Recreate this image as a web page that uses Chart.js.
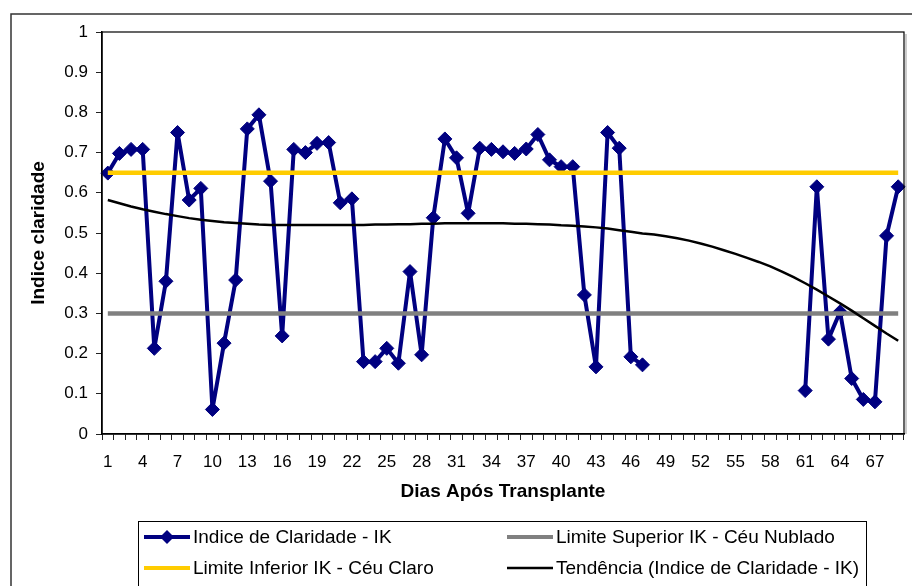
<!DOCTYPE html>
<html>
<head>
<meta charset="utf-8">
<script src="https://cdn.jsdelivr.net/npm/chart.js@4/dist/chart.umd.min.js"></script>
<style>
  html, body { margin: 0; padding: 0; background: #fff; }
  #chart { display: block; }
</style>
</head>
<body>
<canvas id="chart" width="912" height="586"></canvas>
<script>
// dias 1..69 (eixo de categorias)
const dias = ['1','2','3','4','5','6','7','8','9','10','11','12','13','14','15','16','17','18','19','20',
  '21','22','23','24','25','26','27','28','29','30','31','32','33','34','35','36','37','38','39','40',
  '41','42','43','44','45','46','47','48','49','50','51','52','53','54','55','56','57','58','59','60',
  '61','62','63','64','65','66','67','68','69'];

// Indice de Claridade - IK (sem dados entre os dias 48 e 60)
const indiceIK = [0.649, 0.698, 0.708, 0.708, 0.213, 0.380, 0.750, 0.582, 0.611, 0.061,
  0.226, 0.383, 0.759, 0.794, 0.629, 0.244, 0.708, 0.700, 0.723, 0.725,
  0.575, 0.585, 0.180, 0.180, 0.213, 0.176, 0.404, 0.197, 0.538, 0.734,
  0.687, 0.549, 0.711, 0.708, 0.702, 0.698, 0.709, 0.745, 0.682, 0.665,
  0.665, 0.346, 0.167, 0.750, 0.711, 0.192, 0.172,
  null, null, null, null, null, null, null, null, null, null, null, null, null,
  0.108, 0.615, 0.236, 0.304, 0.138, 0.086, 0.080, 0.493, 0.615];

// tendência (polinomial)
const tendencia = [0.582, 0.574, 0.566, 0.559, 0.553, 0.547, 0.542, 0.537, 0.533, 0.530,
  0.527, 0.525, 0.523, 0.521, 0.520, 0.520, 0.520, 0.520, 0.520, 0.520,
  0.520, 0.520, 0.520, 0.521, 0.521, 0.522, 0.522, 0.523, 0.523, 0.524,
  0.524, 0.524, 0.524, 0.524, 0.524, 0.523, 0.523, 0.522, 0.521, 0.519,
  0.518, 0.516, 0.514, 0.511, 0.507, 0.503, 0.499, 0.496, 0.492, 0.487,
  0.481, 0.474, 0.466, 0.457, 0.448, 0.438, 0.428, 0.417, 0.404, 0.390,
  0.375, 0.359, 0.342, 0.325, 0.307, 0.288, 0.269, 0.250, 0.232];

const limiteSuperior = 0.30; // céu nublado
const limiteInferior = 0.65; // céu claro
const yTicks = [0, 0.1, 0.2, 0.3, 0.4, 0.5, 0.6, 0.7, 0.8, 0.9, 1];

const NAVY = '#000080', GRAY = '#808080', GOLD = '#FFCC00';
const FONT = 'Liberation Sans, Arial, sans-serif';

const legendItems = [
  {text: 'Indice de Claridade - IK', color: NAVY, width: 4, marker: true, col: 0, row: 0},
  {text: 'Limite Superior IK - Céu Nublado', color: GRAY, width: 4, col: 1, row: 0},
  {text: 'Limite Inferior IK - Céu Claro', color: GOLD, width: 4, col: 0, row: 1},
  {text: 'Tendência (Indice de Claridade - IK)', color: '#000', width: 2.5, col: 1, row: 1}
];

const framePlugin = {
  id: 'frame',
  beforeDraw(chart){
    const c = chart.ctx;
    c.save();
    c.fillStyle = '#fff'; c.fillRect(0, 0, chart.width, chart.height);
    c.strokeStyle = '#333'; c.lineWidth = 1.5;
    c.beginPath(); c.moveTo(11, 590); c.lineTo(11, 14); c.lineTo(915, 14); c.stroke();
    c.restore();
  },
  afterDraw(chart){
    const c = chart.ctx, a = chart.chartArea;
    c.save();
    // borda da área de plotagem com sombra
    c.strokeStyle = '#999'; c.lineWidth = 1;
    c.beginPath(); c.moveTo(a.right + 2, a.top + 2); c.lineTo(a.right + 2, a.bottom); c.stroke();
    c.strokeStyle = '#000'; c.lineWidth = 1.2;
    c.strokeRect(a.left, a.top, a.right - a.left, a.bottom - a.top);
    // legenda
    c.strokeStyle = '#000'; c.lineWidth = 1;
    c.strokeRect(138.5, 521.5, 728, 80);
    const colX = [144, 507], rowY = [537, 568];
    c.font = '19px ' + FONT; c.textBaseline = 'middle'; c.textAlign = 'left'; c.fillStyle = '#000';
    legendItems.forEach(it=>{
      const x = colX[it.col], y = rowY[it.row];
      c.strokeStyle = it.color; c.lineWidth = it.width;
      c.beginPath(); c.moveTo(x, y); c.lineTo(x + 46, y); c.stroke();
      if(it.marker){
        c.fillStyle = it.color;
        c.beginPath(); c.moveTo(x + 23, y - 7); c.lineTo(x + 30, y); c.lineTo(x + 23, y + 7); c.lineTo(x + 16, y); c.closePath(); c.fill();
      }
      c.fillStyle = '#000';
      c.fillText(it.text, x + 49, y + 1);
    });
    c.restore();
  }
};

new Chart(document.getElementById('chart'), {
  type: 'line',
  data: {
    labels: dias,
    datasets: [
      {label: 'Tendência (Indice de Claridade - IK)', data: tendencia, borderColor: '#000', borderWidth: 2.5,
        pointRadius: 0, fill: false, order: 0},
      {label: 'Limite Inferior IK - Céu Claro', data: dias.map(()=>limiteInferior), borderColor: GOLD, borderWidth: 4.5,
        pointRadius: 0, fill: false, order: 1},
      {label: 'Limite Superior IK - Céu Nublado', data: dias.map(()=>limiteSuperior), borderColor: GRAY, borderWidth: 4.5,
        pointRadius: 0, fill: false, order: 2},
      {label: 'Indice de Claridade - IK', data: indiceIK, borderColor: NAVY, borderWidth: 4, borderJoinStyle: 'round',
        pointStyle: 'rectRot', pointRadius: 7, pointBackgroundColor: NAVY, pointBorderColor: NAVY, pointBorderWidth: 1,
        spanGaps: false, fill: false, order: 3}
    ]
  },
  options: {
    responsive: false,
    animation: false,
    layout: {padding: {left: 12, top: 32, right: 8, bottom: 0}},
    plugins: {legend: {display: false}, tooltip: {enabled: false}},
    scales: {
      x: {
        type: 'category',
        offset: true,
        grid: {offset: true, drawOnChartArea: false, drawTicks: true, tickLength: 6, color: '#222', lineWidth: 1},
        border: {display: true, color: '#000', width: 1.5},
        ticks: {autoSkip: false, maxRotation: 0, minRotation: 0, padding: 12, color: '#000',
          font: {family: FONT, size: 17},
          callback: (v, i) => i % 3 === 0 ? dias[i] : ''},
        title: {display: true, text: 'Dias Após Transplante', color: '#000',
          font: {family: FONT, size: 19, weight: 'bold'}, padding: {top: 0, bottom: 83}},
        afterFit: s => { s.height = 152; }
      },
      y: {
        min: 0, max: 1,
        afterBuildTicks: s => { s.ticks = yTicks.map(v => ({value: v})); },
        grid: {drawOnChartArea: false, drawTicks: true, tickLength: 6, color: '#222'},
        border: {display: true, color: '#000', width: 1.5},
        ticks: {padding: 8, color: '#000', font: {family: FONT, size: 17},
          callback: v => String(Math.round(v * 10) / 10)},
        title: {display: true, text: 'Indice claridade', color: '#000',
          font: {family: FONT, size: 19, weight: 'bold'}, padding: {top: 15, bottom: 0}},
        afterFit: s => { s.width = 90; }
      }
    }
  },
  plugins: [framePlugin]
});
</script>
</body>
</html>
